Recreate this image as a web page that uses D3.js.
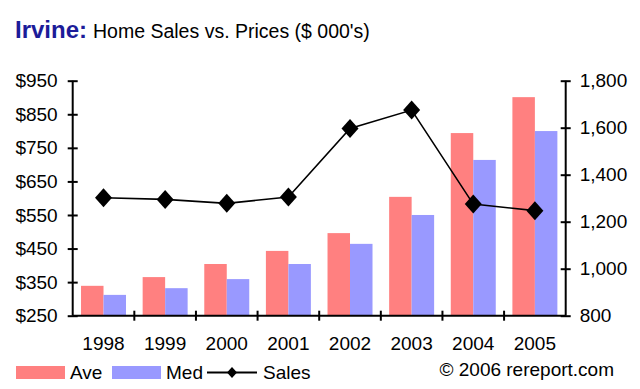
<!DOCTYPE html>
<html>
<head>
<meta charset="utf-8">
<script src="https://cdn.jsdelivr.net/npm/d3@7/dist/d3.min.js"></script>
<style>
  html, body { margin: 0; padding: 0; background: #ffffff; }
  svg text { font-family: "Liberation Sans", Arial, sans-serif; fill: #000; }
</style>
</head>
<body>
<div id="chart"></div>
<script>
// Chart data
const years = ['1998', '1999', '2000', '2001', '2002', '2003', '2004', '2005'];
const aveValues = [339, 365, 404, 443, 496, 604, 794, 901];
const medValues = [312, 332, 359, 404, 464, 550, 714, 800];
const salesValues = [1302, 1295, 1278, 1305, 1597, 1675, 1275, 1247];
const priceTicks = [250, 350, 450, 550, 650, 750, 850, 950];
const salesTicks = [800, 1000, 1200, 1400, 1600, 1800];

const AVE_COLOUR = '#ff8080';
const MED_COLOUR = '#9999ff';

const width = 640, height = 389;
const plot = { left: 72.7, right: 565.7, top: 80.7, bottom: 315.7 };

const svg = d3.select('#chart')
  .append('svg')
  .attr('width', width)
  .attr('height', height)
  .attr('viewBox', `0 0 ${width} ${height}`);

// Scales
const x = d3.scaleBand().domain(years).range([plot.left, plot.right]).padding(0);
const xSeries = d3.scaleBand().domain(['ave', 'med'])
  .range([0, x.bandwidth()])
  .paddingInner(0)
  .paddingOuter(0.37);
const yPrice = d3.scaleLinear().domain([250, 950]).range([plot.bottom, plot.top]);
const ySales = d3.scaleLinear().domain([800, 1800]).range([plot.bottom, plot.top]);

// Title
svg.append('text')
  .attr('x', 15).attr('y', 38)
  .attr('font-size', 24)
  .attr('font-weight', 'bold')
  .style('fill', '#1c1c99')
  .text('Irvine:');
svg.append('text')
  .attr('x', 93).attr('y', 38)
  .attr('font-size', 19.5)
  .text("Home Sales vs. Prices ($ 000's)");

// Bars
const groups = svg.append('g').selectAll('g.year')
  .data(years)
  .enter()
  .append('g')
  .attr('class', 'year')
  .attr('transform', d => `translate(${x(d)},0)`);

groups.append('rect')
  .attr('x', xSeries('ave'))
  .attr('width', xSeries.bandwidth())
  .attr('y', (d, i) => yPrice(aveValues[i]))
  .attr('height', (d, i) => plot.bottom - yPrice(aveValues[i]))
  .attr('fill', AVE_COLOUR);

groups.append('rect')
  .attr('x', xSeries('med'))
  .attr('width', xSeries.bandwidth())
  .attr('y', (d, i) => yPrice(medValues[i]))
  .attr('height', (d, i) => plot.bottom - yPrice(medValues[i]))
  .attr('fill', MED_COLOUR);

// Axes
const leftAxis = d3.axisLeft(yPrice)
  .tickValues(priceTicks)
  .tickSize(5)
  .tickPadding(10)
  .tickFormat(d => '$' + d);
const rightAxis = d3.axisRight(ySales)
  .tickValues(salesTicks)
  .tickSize(5)
  .tickPadding(9)
  .tickFormat(d3.format(','));

function styleAxis(g) {
  g.select('.domain').attr('stroke', '#000').attr('stroke-width', 2);
  g.selectAll('.tick line').attr('stroke', '#000').attr('stroke-width', 2);
  g.selectAll('.tick text')
    .attr('font-size', 19)
    .attr('font-family', '"Liberation Sans", Arial, sans-serif')
    .style('fill', '#000');
}

const gl = svg.append('g')
  .attr('transform', `translate(${plot.left},0)`)
  .call(leftAxis)
  .call(styleAxis);
gl.select('.domain').attr('d', `M0,${plot.top}V${plot.bottom}`);
gl.selectAll('.tick line').attr('x1', 5);

const gr = svg.append('g')
  .attr('transform', `translate(${plot.right},0)`)
  .call(rightAxis)
  .call(styleAxis);
gr.select('.domain').attr('d', `M0,${plot.top}V${plot.bottom}`);
gr.selectAll('.tick line').attr('x1', -5);

// Category axis: ticks at band boundaries
const gx = svg.append('g').attr('class', 'x-axis');
gx.append('line')
  .attr('x1', plot.left).attr('x2', plot.right)
  .attr('y1', plot.bottom).attr('y2', plot.bottom)
  .attr('stroke', '#000').attr('stroke-width', 2);
gx.selectAll('line.tick')
  .data(years.slice(1))
  .enter()
  .append('line')
  .attr('class', 'tick')
  .attr('x1', d => x(d)).attr('x2', d => x(d))
  .attr('y1', plot.bottom - 5).attr('y2', plot.bottom + 5)
  .attr('stroke', '#000').attr('stroke-width', 2);
gx.selectAll('text')
  .data(years)
  .enter()
  .append('text')
  .attr('x', d => x(d) + x.bandwidth() / 2)
  .attr('y', 350)
  .attr('text-anchor', 'middle')
  .attr('font-size', 19)
  .text(d => d);

// Sales line
const line = d3.line()
  .x((d, i) => x(years[i]) + x.bandwidth() / 2)
  .y(d => ySales(d));

svg.append('path')
  .datum(salesValues)
  .attr('d', line)
  .attr('fill', 'none')
  .attr('stroke', '#000')
  .attr('stroke-width', 1.6);

const diamond = 'M0,-9.5L8.5,0L0,9.5L-8.5,0Z';
svg.append('g').selectAll('path')
  .data(salesValues)
  .enter()
  .append('path')
  .attr('transform', (d, i) => `translate(${x(years[i]) + x.bandwidth() / 2},${ySales(d)})`)
  .attr('d', diamond)
  .attr('fill', '#000');

// Legend
const legend = svg.append('g').attr('class', 'legend');
legend.append('rect').attr('x', 16).attr('y', 366).attr('width', 49).attr('height', 13).attr('fill', AVE_COLOUR);
legend.append('text').attr('x', 70).attr('y', 378.5).attr('font-size', 19).text('Ave');
legend.append('rect').attr('x', 112).attr('y', 366).attr('width', 49).attr('height', 13).attr('fill', MED_COLOUR);
legend.append('text').attr('x', 166).attr('y', 378.5).attr('font-size', 19).text('Med');
legend.append('line').attr('x1', 207).attr('x2', 257).attr('y1', 372.5).attr('y2', 372.5)
  .attr('stroke', '#000').attr('stroke-width', 2);
legend.append('path').attr('transform', 'translate(232,372.5)').attr('d', 'M0,-5.5L5,0L0,5.5L-5,0Z').attr('fill', '#000');
legend.append('text').attr('x', 263).attr('y', 378.5).attr('font-size', 19).text('Sales');

svg.append('text')
  .attr('x', 614)
  .attr('y', 376)
  .attr('text-anchor', 'end')
  .attr('font-size', 19)
  .text('\u00a9 2006 rereport.com');
</script>
</body>
</html>
